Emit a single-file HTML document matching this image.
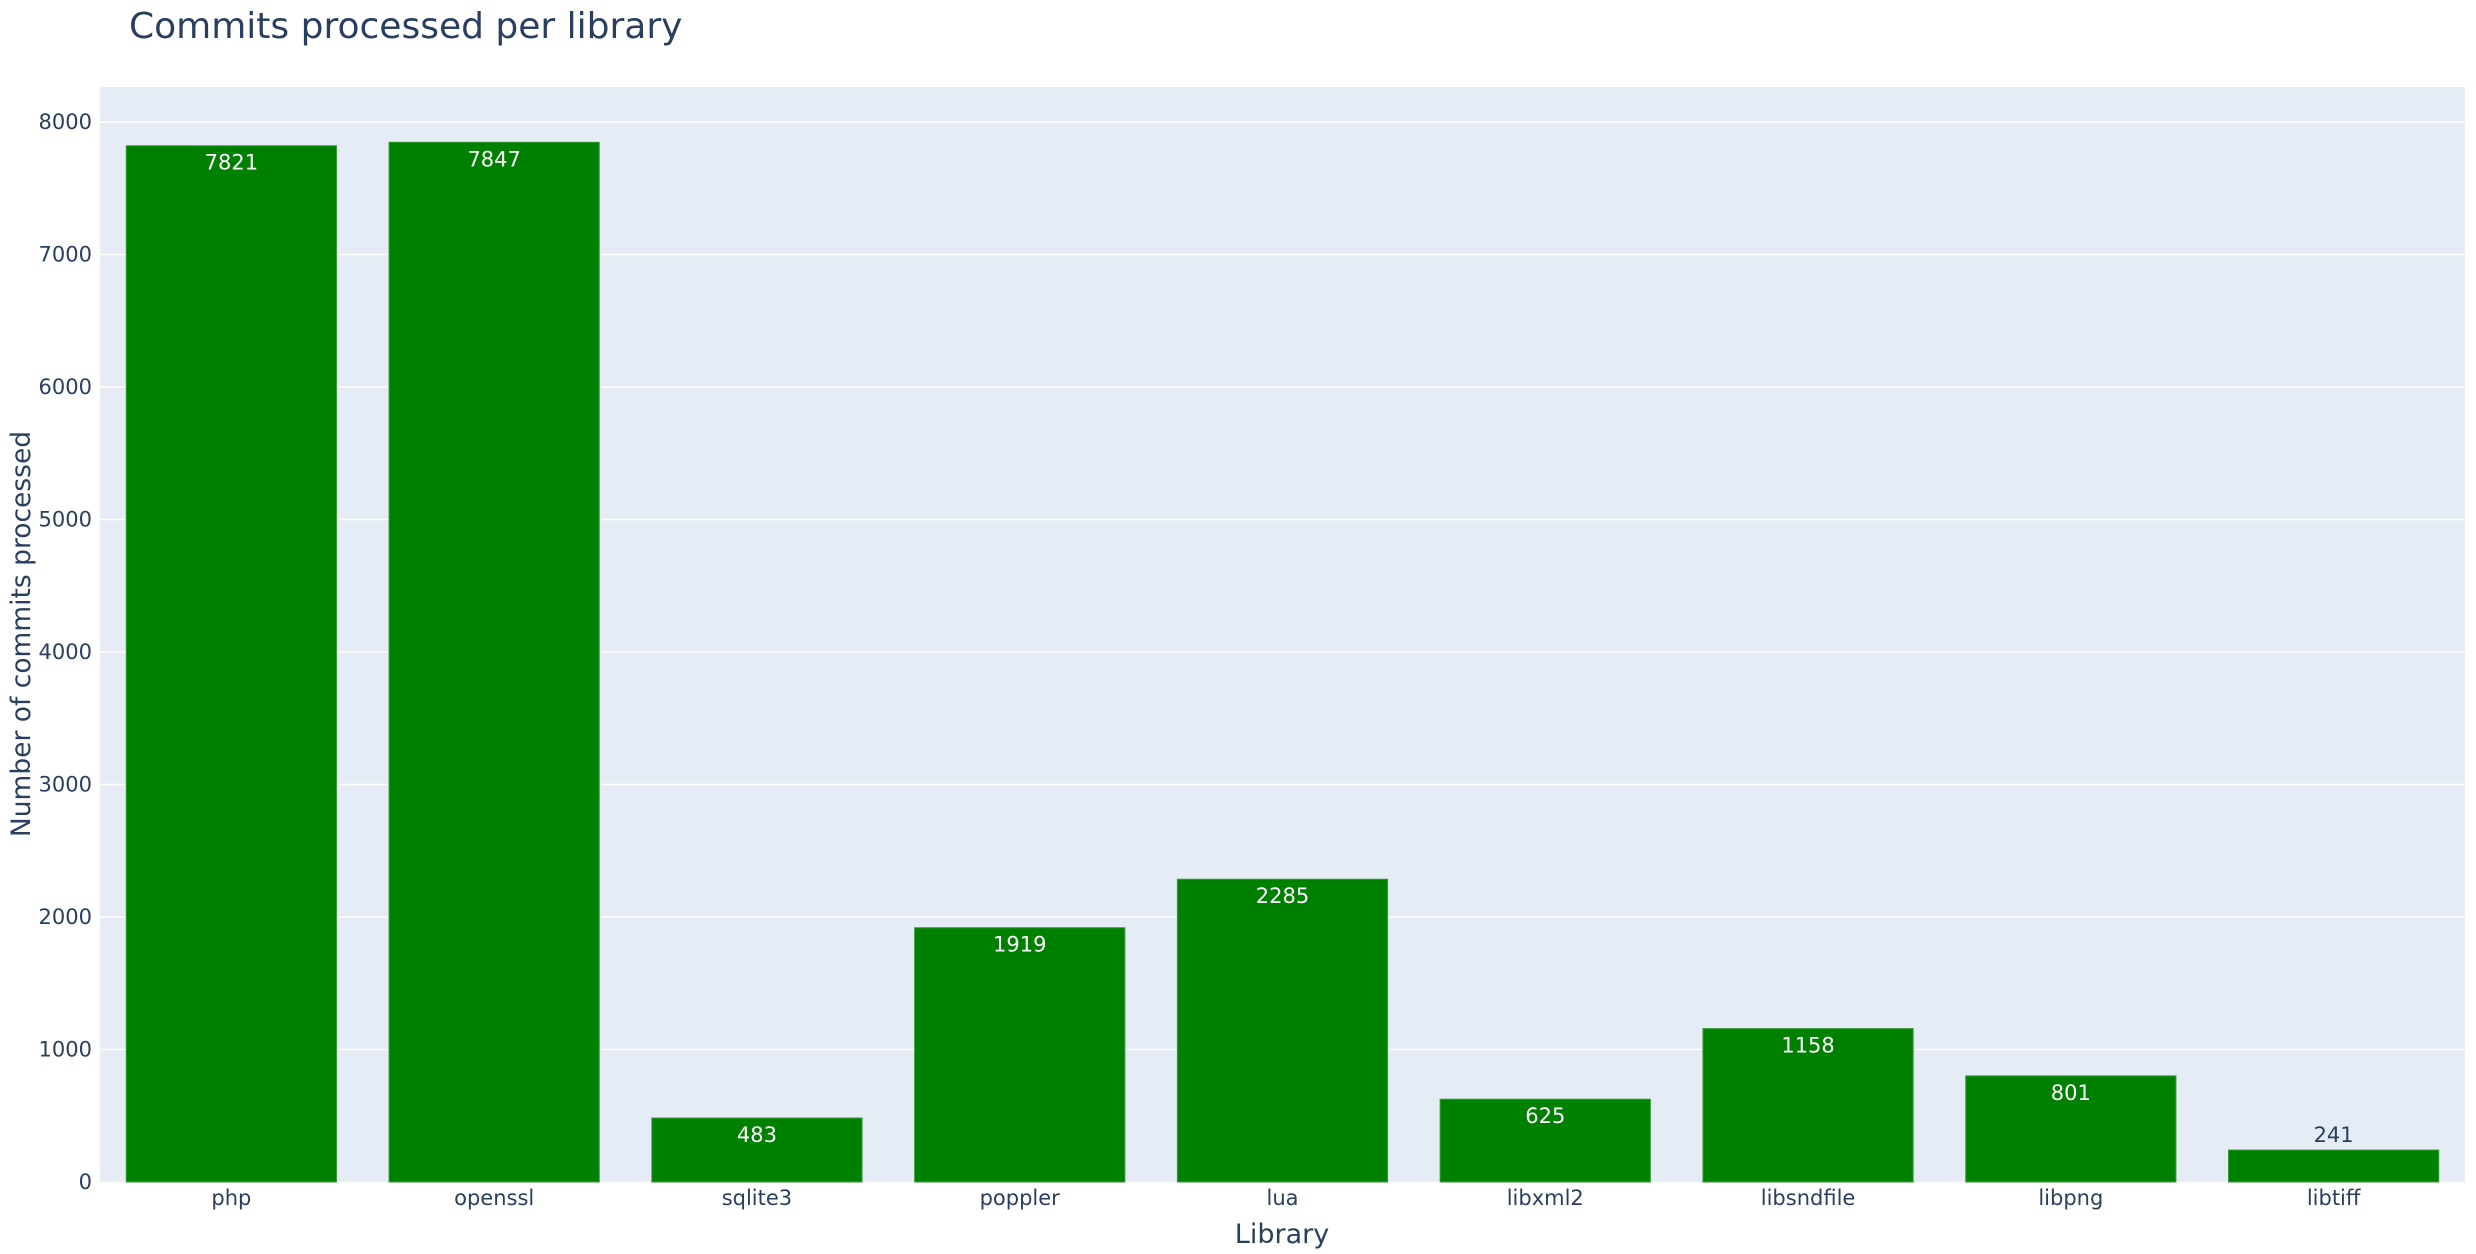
<!DOCTYPE html>
<html><head><meta charset="utf-8"><style>
html,body{margin:0;padding:0;background:#fff;}
svg{display:block;font-family:"DejaVu Sans","Liberation Sans",sans-serif;}
</style></head><body>
<svg id="chart" width="2476" height="1254">
<rect x="100" y="87" width="2365" height="1095" fill="#e5ecf6"/>
<text x="129" y="38" font-size="36" fill="#2a3f5f">Commits processed per library</text>
<g id="grid"></g><g id="bars"></g><g id="labels"></g>
<text x="1282" y="1243" font-size="27" fill="#2a3f5f" text-anchor="middle">Library</text>
<text transform="translate(30,634) rotate(-90)" font-size="26.5" fill="#2a3f5f" text-anchor="middle">Number of commits processed</text>
</svg>
<script>
const categories=["php","openssl","sqlite3","poppler","lua","libxml2","libsndfile","libpng","libtiff"];
const values=[7821,7847,483,1919,2285,625,1158,801,241];
const yTicks=[0,1000,2000,3000,4000,5000,6000,7000,8000];
const L=100,R=2465,B=1182,T8=122;
const NS="http://www.w3.org/2000/svg";
function y(v){return B-(B-T8)*v/8000;}
const bw=(R-L)/categories.length;
function xc(i){return L+bw*(i+0.5);}
function mk(t,a,p){const e=document.createElementNS(NS,t);for(const k in a)e.setAttribute(k,a[k]);p.appendChild(e);return e;}
const g=document.getElementById('grid'),bs=document.getElementById('bars'),lb=document.getElementById('labels');
yTicks.forEach(v=>{
 if(v>0){const l=mk('line',{x1:L,x2:R,y1:y(v),y2:y(v),stroke:'#fff','stroke-width':1.5},g);
 
 }
 const t=mk('text',{x:92,y:y(v)+7,'font-size':21,fill:'#2a3f5f','text-anchor':'end'},lb);
 t.textContent=v;
 
 
});
categories.forEach((c,i)=>{
 const w=bw*0.8,x=xc(i)-w/2,top=y(values[i]);
 const r=mk('rect',{x:x,y:top,width:w,height:B-top,fill:'#008000',stroke:'#3a9a3a','stroke-width':1},bs);
 
 
 const inside=(B-top)>50;
 const t=mk('text',{x:xc(i),y:inside?top+24:top-8,'font-size':21,fill:inside?'#fff':'#2a3f5f','text-anchor':'middle'},lb);
 t.textContent=values[i];
 
 
 const xt=mk('text',{x:xc(i),y:1205,'font-size':21,fill:'#2a3f5f','text-anchor':'middle'},lb);
 xt.textContent=c;
 
 
});
</script>
</body></html>
